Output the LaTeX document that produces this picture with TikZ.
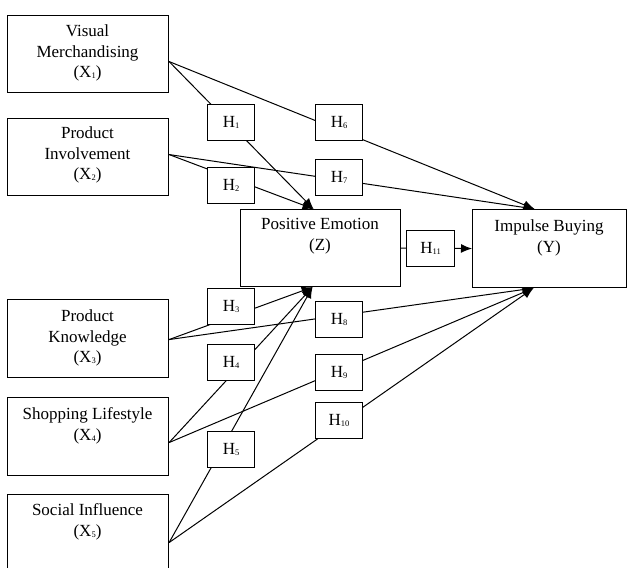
\documentclass[tikz,border=0pt]{standalone}
\usepackage{fontspec}
\setmainfont{Liberation Serif}
\usetikzlibrary{arrows.meta,calc,backgrounds}
\newcommand\sbs[1]{\raisebox{-1.2pt}{\fontsize{8.5}{8.5}\selectfont #1}}
\begin{document}
\begin{tikzpicture}[x=1pt,y=-1pt,
  bigbox/.style={draw,line width=1.1pt,fill=white,anchor=north west,inner sep=0,minimum width=161pt},
  hbox/.style={draw,line width=1.1pt,fill=white,anchor=north west,inner sep=0,minimum width=47pt,minimum height=36pt,font=\fontsize{17}{20}\selectfont},
  lbl/.style={align=center,font=\fontsize{17}{20.5}\selectfont,inner sep=0},
  conn/.style={line width=1pt},
  arr/.style={conn,-{Latex[length=11pt,width=9pt]}}]
\useasboundingbox (0,0) rectangle (627,568);

% big boxes
\node[bigbox,minimum height=77pt] (x1) at (7,15) {};
\node[bigbox,minimum height=77pt] (x2) at (7,118) {};
\node[bigbox,minimum height=78pt] (x3) at (7,299) {};
\node[bigbox,minimum height=78pt] (x4) at (7,397) {};
\node[bigbox,minimum height=78pt] (x5) at (7,494) {};
\node[bigbox,minimum width=160pt,minimum height=77pt] (pe) at (240,209) {};
\node[bigbox,minimum width=154pt,minimum height=78pt] (ib) at (472,209) {};

% labels
\node[lbl] (t1) at (87.5,53) {Visual\\Merchandising\\(X\sbs{1})};
\node[lbl] (t2) at (87.5,155) {Product\\Involvement\\(X\sbs{2})};
\node[lbl] (t3) at (87.5,338) {Product\\Knowledge\\(X\sbs{3})};
\node[lbl] (t4) at (87.5,426) {Shopping Lifestyle\\(X\sbs{4})};
\node[lbl] (t5) at (87.5,522) {Social Influence\\(X\sbs{5})};
\node[lbl] (tz) at (320,236) {Positive Emotion\\(Z)};
\node[lbl] (ty) at (549,238) {Impulse Buying\\(Y)};

% hypothesis boxes
\node[hbox] (h1) at (207,104) {H\sbs{1}};
\node[hbox] (h2) at (207,167) {H\sbs{2}};
\node[hbox] (h3) at (207,288) {H\sbs{3}};
\node[hbox] (h4) at (207,344) {H\sbs{4}};
\node[hbox] (h5) at (207,431) {H\sbs{5}};
\node[hbox] (h6) at (315,104) {H\sbs{6}};
\node[hbox] (h7) at (315,159) {H\sbs{7}};
\node[hbox] (h8) at (315,301) {H\sbs{8}};
\node[hbox] (h9) at (315,354) {H\sbs{9}};
\node[hbox] (h10) at (315,402) {H\sbs{10}};
\node[hbox,minimum width=48pt] (h11) at (406,230) {H\sbs{11}};

% connectors
\begin{scope}[on background layer]
\coordinate (zt) at ([xshift=-7pt]pe.north);
\coordinate (zb) at ([xshift=-8pt]pe.south);
\coordinate (yt) at ([xshift=-15pt]ib.north);
\coordinate (yb) at ([xshift=-16pt]ib.south);
\coordinate (p1) at ([yshift=-7.5pt]x1.east);
\coordinate (p2) at ([yshift=2.5pt]x2.east);
\coordinate (p3) at ([yshift=-1pt]x3.east);
\coordinate (p4) at ([yshift=-6pt]x4.east);
\coordinate (p5) at ([yshift=-9pt]x5.east);
\draw[arr] (p1) -- (zt);
\draw[arr] (p2) -- (zt);
\draw[arr] (p3) -- (zb);
\draw[arr] (p4) -- (zb);
\draw[arr] (p5) -- (zb);
\draw[arr] (p1) -- (yt);
\draw[arr] (p2) -- (yt);
\draw[arr] (p3) -- (yb);
\draw[arr] (p4) -- (yb);
\draw[arr] (p5) -- (yb);
\draw[arr] (pe.east) -- (ib.west);
\end{scope}
\end{tikzpicture}
\end{document}
